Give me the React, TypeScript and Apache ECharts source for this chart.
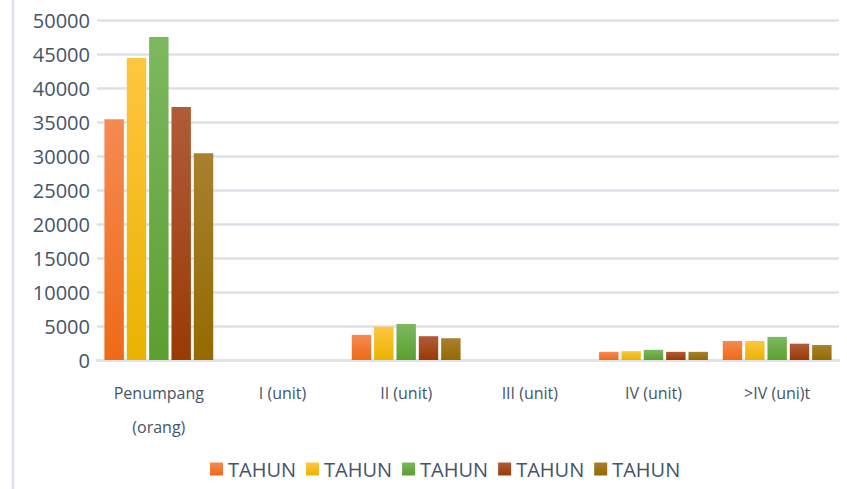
import React, { useEffect, useRef } from "react";
import * as echarts from "echarts";

const categories = ["Penumpang\n(orang)", "I (unit)", "II (unit)", "III (unit)", "IV (unit)", ">IV (uni)t"];
const seriesNames = ["TAHUN", "TAHUN", "TAHUN", "TAHUN", "TAHUN"];
const tahun1 = [35400, 0, 3700, 0, 1200, 2800];
const tahun2 = [44400, 0, 4900, 0, 1300, 2800];
const tahun3 = [47500, 0, 5300, 0, 1500, 3400];
const tahun4 = [37200, 0, 3500, 0, 1200, 2400];
const tahun5 = [30400, 0, 3200, 0, 1200, 2200];
const seriesValues = [tahun1, tahun2, tahun3, tahun4, tahun5];
const colorStops: [string, string][] = [
  ["#f58a52", "#ee6a18"],
  ["#ffc640", "#e9b300"],
  ["#7db85f", "#5c9f30"],
  ["#b05c38", "#9a3a03"],
  ["#a8802f", "#946a00"],
];

export default function App() {
  const ref = useRef<HTMLDivElement>(null);
  useEffect(() => {
    if (!ref.current) return;
    const chart = echarts.init(ref.current, null, { renderer: "svg" });
    const textColor = "#44546a";
    const gridColor = "#dde2ea";
    chart.setOption({
      animation: false,
      backgroundColor: "#ffffff",
      grid: { left: 97, right: 8, top: 20, bottom: 129, containLabel: false },
      legend: {
        top: 454,
        left: 205,
        itemWidth: 13,
        itemHeight: 13,
        itemGap: 10,
        icon: "rect",
        data: seriesNames.map((n, i) => ({ name: n + "\u200b".repeat(i) })),
        textStyle: {
          color: textColor,
          fontFamily: "Open Sans",
          fontSize: 20,
          padding: [8, 0, 0, 0],
        },
      },
      xAxis: {
        type: "category",
        data: categories,
        axisLine: { show: true, lineStyle: { color: gridColor, width: 2.5 } },
        axisTick: { show: false },
        axisLabel: {
          color: textColor,
          fontFamily: "Open Sans",
          fontSize: 16,
          margin: 16,
          lineHeight: 34,
          interval: 0,
        },
      },
      yAxis: {
        type: "value",
        min: 0,
        max: 50000,
        interval: 5000,
        axisLine: { show: false },
        axisTick: { show: false },
        splitLine: { lineStyle: { color: gridColor, width: 2.5 } },
        axisLabel: {
          color: textColor,
          fontFamily: "Open Sans",
          fontSize: 20,
          margin: 7,
          formatter: (v: number) => String(v),
        },
      },
      graphic: [
        {
          type: "line",
          shape: { x1: 13, y1: 0, x2: 13, y2: 489 },
          style: { stroke: gridColor, lineWidth: 2.5 },
        },
      ],
      series: seriesValues.map((vals, i) => ({
        name: seriesNames[i] + "\u200b".repeat(i),
        type: "bar",
        data: vals,
        barGap: "15%",
        barCategoryGap: "12%",
        itemStyle: {
          color: new echarts.graphic.LinearGradient(0, 0, 0, 1, [
            { offset: 0, color: colorStops[i][0] },
            { offset: 1, color: colorStops[i][1] },
          ]),
        },
      })),
    });
    return () => chart.dispose();
  }, []);
  return (
    <div
      ref={ref}
      style={{ position: "absolute", left: 0, top: 0, width: 847, height: 489 }}
    />
  );
}
